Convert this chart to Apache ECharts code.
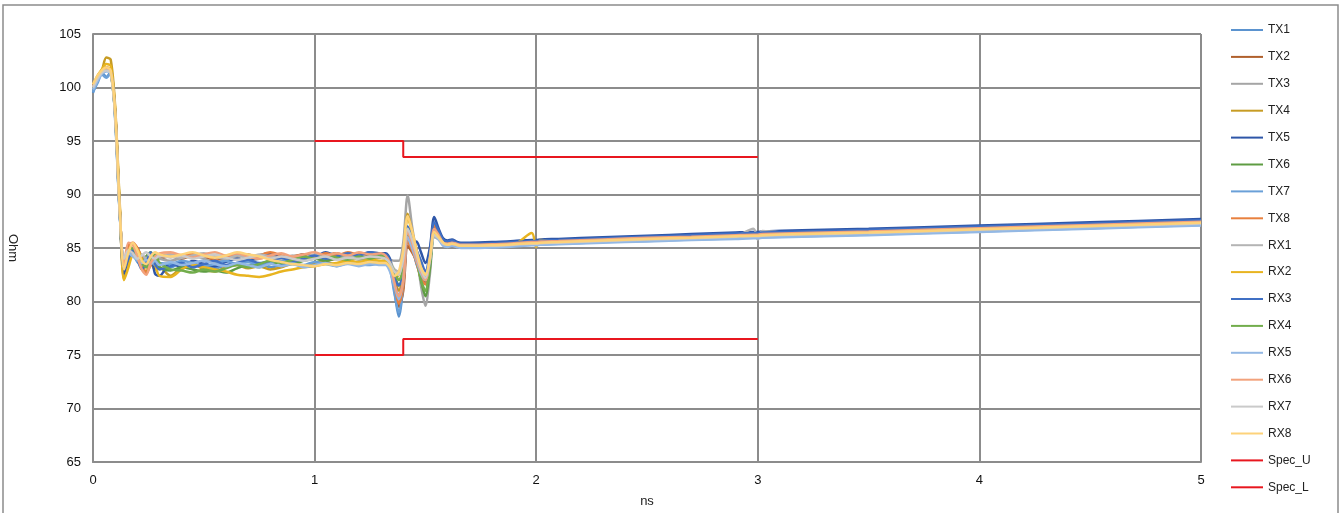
<!DOCTYPE html>
<html><head><meta charset="utf-8">
<script src="https://cdn.jsdelivr.net/npm/echarts@6/dist/echarts.min.js"></script>
<style>html,body{margin:0;padding:0;background:#fff}#c{width:1341px;height:513px}</style>
</head><body><div id="c"></div>
<script>
// time axis (ns)
const xNs = [0,0.02,0.04,0.06,0.08,0.1,0.12,0.14,0.16,0.18,0.2,0.22,0.24,0.26,0.28,0.3,
  0.35,0.4,0.45,0.5,0.55,0.6,0.65,0.7,0.75,0.8,0.85,0.9,0.95,1.0,1.05,1.1,1.15,1.2,1.25,1.3,
  1.32,1.34,1.36,1.38,1.4,1.42,1.44,1.46,1.48,1.5,1.52,1.54,1.56,1.58,1.6,1.62,1.64,1.66,1.68,1.7,
  1.8,1.9,1.98,2.0,2.02,2.1,2.3,2.5,2.7,2.9,2.98,3.0,3.02,3.2,3.5,4.0,4.5,5.0];

const TX1 = [99.5,100.6,101.4,101.0,101.5,97.2,88.5,83.5,84.8,84.6,83.8,83.2,83.6,84.0,83.3,83.5,
  83.2,83.6,83.3,83.5,83.1,83.4,83.6,83.3,83.5,83.2,83.4,83.6,83.3,83.5,83.7,83.4,83.6,83.5,83.7,83.6,
  83.6,83.2,81.0,78.6,81.5,86.2,85.2,83.5,82.5,81.8,83.6,86.4,86.0,85.3,85.2,85.3,85.2,85.1,85.1,85.1,
  85.15,85.25,85.35,85.35,85.4,85.45,85.6,85.7,85.85,85.95,86.0,86.0,86.05,86.15,86.3,86.6,86.9,87.2];
const TX2 = [100.2,101.0,101.6,101.9,101.6,97.8,89.0,83.0,84.8,85.4,85.0,84.2,83.8,84.4,83.9,84.0,
  84.2,84.0,84.3,84.1,83.8,84.0,84.2,84.4,84.1,84.3,84.0,84.2,84.4,84.1,84.3,84.5,84.2,84.4,84.3,84.4,
  84.3,83.6,81.5,79.5,81.0,85.2,84.6,83.8,82.5,81.9,84.0,87.0,86.3,85.6,85.4,85.5,85.4,85.3,85.3,85.3,
  85.35,85.45,85.55,85.55,85.6,85.65,85.8,85.95,86.05,86.2,86.25,86.25,86.3,86.4,86.55,86.85,87.15,87.45];
const TX3 = [100.0,100.9,101.5,101.7,101.4,97.5,88.8,83.6,84.5,84.9,84.3,83.8,84.2,84.5,84.1,84.0,
  83.8,84.1,84.3,84.0,83.7,83.9,84.1,83.8,84.0,84.2,83.9,83.7,83.9,84.1,83.8,84.0,84.2,83.9,84.0,84.1,
  84.0,83.9,83.8,83.8,85.5,89.9,87.0,84.5,81.5,79.6,82.5,86.3,86.0,85.5,85.4,85.5,85.4,85.3,85.3,85.3,
  85.3,85.4,85.5,85.5,85.55,85.6,85.75,85.9,86.0,86.15,86.2,86.2,86.25,86.35,86.5,86.8,87.1,87.4];
const TX4 = [100.2,101.0,101.6,102.8,102.6,98.2,89.5,82.1,83.5,84.6,84.2,83.2,82.8,83.6,83.0,83.2,
  82.4,83.2,83.5,83.0,82.8,83.2,83.4,83.1,83.3,83.0,83.2,83.5,83.3,83.6,83.8,84.0,83.8,84.1,84.0,84.2,
  84.0,83.4,82.0,81.0,83.5,88.2,86.5,84.8,83.0,82.2,83.8,86.3,86.0,85.5,85.3,85.4,85.3,85.2,85.2,85.2,
  85.25,85.35,85.5,85.5,85.55,85.6,85.75,85.9,86.0,86.15,86.2,86.2,86.25,86.35,86.5,86.8,87.1,87.4];
const TX5 = [100.1,100.9,101.5,101.8,101.5,97.6,88.7,82.6,84.2,85.0,84.6,83.6,83.9,84.3,82.6,82.4,
  83.6,83.2,83.8,83.5,83.3,83.7,84.0,83.8,84.3,84.5,84.2,84.0,84.4,84.2,84.6,84.3,84.5,84.4,84.6,84.5,
  84.5,84.0,82.0,80.4,82.0,86.0,85.0,85.6,84.6,83.6,85.0,87.9,86.8,85.9,85.7,85.8,85.6,85.5,85.5,85.5,
  85.55,85.65,85.75,85.75,85.8,85.85,86.0,86.15,86.3,86.45,86.5,86.5,86.55,86.65,86.8,87.1,87.4,87.7];
const TX6 = [100.1,100.9,101.5,101.8,101.5,97.6,88.9,83.3,84.4,84.9,84.4,83.5,84.2,84.6,84.0,83.2,
  82.9,83.2,83.0,82.8,82.9,82.7,83.1,83.4,83.2,83.5,83.7,83.5,83.8,84.0,83.8,84.1,84.3,84.0,84.2,84.1,
  84.0,83.5,82.5,81.5,82.5,86.5,85.5,84.0,82.0,80.5,83.0,86.2,85.9,85.4,85.3,85.4,85.3,85.2,85.2,85.2,
  85.25,85.35,85.45,85.45,85.5,85.55,85.7,85.85,85.95,86.1,86.15,86.15,86.2,86.3,86.45,86.75,87.05,87.35];
const TX7 = [99.6,100.4,101.2,100.9,101.4,97.0,88.4,83.8,84.6,84.4,83.7,83.4,84.0,83.8,83.4,83.6,
  83.5,83.8,83.6,83.3,83.5,83.8,83.5,83.7,83.4,83.6,83.9,83.6,83.4,83.7,83.5,83.3,83.6,83.5,83.4,83.6,
  83.5,83.0,80.8,79.0,81.6,86.0,85.0,83.6,82.4,82.0,83.8,86.6,86.0,85.3,85.2,85.3,85.2,85.1,85.1,85.1,
  85.1,85.2,85.3,85.3,85.35,85.4,85.55,85.65,85.8,85.9,85.95,85.95,86.0,86.1,86.25,86.55,86.85,87.15];
const TX8 = [100.0,100.8,101.5,101.8,101.4,97.5,88.8,83.4,85.2,85.5,85.0,84.0,82.6,83.4,84.1,84.3,
  84.4,84.2,84.5,84.3,84.0,84.2,84.4,84.1,84.3,84.6,84.3,84.1,84.4,84.2,84.5,84.3,84.6,84.4,84.5,84.3,
  84.2,83.5,81.6,79.8,81.5,85.6,84.8,83.6,82.2,81.6,83.8,87.2,86.4,85.6,85.4,85.5,85.4,85.3,85.3,85.3,
  85.35,85.45,85.55,85.55,85.6,85.65,85.8,85.95,86.05,86.2,86.25,86.25,86.3,86.4,86.55,86.85,87.15,87.45];
const RX1 = [100.1,101.0,101.6,101.7,101.3,97.4,88.6,83.8,84.6,84.8,84.2,84.4,84.0,84.5,84.3,84.2,
  84.4,84.1,84.3,84.5,84.2,84.0,84.3,84.1,84.4,84.2,84.0,84.3,84.1,84.4,84.2,84.0,84.2,84.3,84.1,84.2,
  84.1,83.8,83.0,82.8,84.0,87.0,86.0,84.5,83.0,82.0,83.8,86.0,85.8,85.4,85.3,85.4,85.3,85.2,85.2,85.2,
  85.25,85.35,85.45,85.45,85.5,85.55,85.7,85.85,85.95,86.1,86.8,85.8,86.6,86.3,86.45,86.75,87.05,87.35];
const RX2 = [100.2,101.1,101.7,102.2,102.0,97.9,89.2,82.0,83.2,84.5,84.8,84.0,83.2,84.3,83.5,82.4,
  82.3,83.0,83.4,83.2,83.0,82.8,82.5,82.4,82.3,82.5,82.8,83.0,83.2,83.3,83.5,83.6,83.8,83.7,83.9,83.8,
  83.8,83.3,82.2,82.5,84.5,87.8,86.5,84.6,82.8,82.2,84.0,86.4,86.0,85.5,85.3,85.4,85.3,85.2,85.2,85.2,
  85.25,85.35,86.4,85.1,85.75,85.6,85.75,85.9,86.0,86.15,86.2,86.2,86.25,86.35,86.5,86.8,87.1,87.4];
const RX3 = [100.1,100.9,101.5,101.8,101.5,97.6,88.7,83.0,84.0,84.8,84.0,83.0,83.6,84.6,83.5,83.0,
  83.3,83.6,83.2,83.5,83.8,83.4,83.6,83.9,83.6,83.8,84.1,83.8,84.0,84.3,84.0,84.2,84.5,84.3,84.6,84.4,
  84.4,83.8,82.2,81.5,83.0,87.0,85.8,84.8,83.8,82.8,84.5,87.4,86.6,85.8,85.6,85.7,85.5,85.4,85.4,85.4,
  85.45,85.55,85.65,85.65,85.7,85.75,85.9,86.05,86.2,86.35,86.4,86.4,86.45,86.55,86.7,87.0,87.3,87.6];
const RX4 = [100.0,100.8,101.5,101.7,101.4,97.4,88.7,83.5,84.8,85.0,84.2,83.6,83.2,84.0,84.4,83.6,
  83.0,82.9,82.7,83.0,82.8,83.1,83.4,83.2,83.5,83.8,83.6,83.9,84.2,84.0,84.3,84.1,83.9,84.2,84.0,84.3,
  84.2,83.6,82.8,82.0,83.0,86.8,85.6,84.0,82.0,81.0,83.5,86.5,86.0,85.4,85.3,85.4,85.3,85.2,85.2,85.2,
  85.25,85.35,85.45,85.45,85.5,85.55,85.7,85.85,85.95,86.1,86.15,86.15,86.2,86.3,86.45,86.75,87.05,87.35];
const RX5 = [99.8,100.6,101.3,101.5,101.4,97.3,88.6,84.0,84.5,84.2,83.9,83.6,83.9,83.5,83.8,83.4,
  83.7,83.4,83.6,83.8,83.5,83.3,83.6,83.4,83.2,83.5,83.3,83.5,83.2,83.4,83.6,83.3,83.5,83.3,83.5,83.4,
  83.4,82.8,81.5,80.2,82.0,86.0,85.0,83.8,82.6,82.0,83.8,86.2,85.8,85.2,85.1,85.2,85.1,85.0,85.0,85.0,
  85.05,85.15,85.25,85.25,85.3,85.35,85.5,85.6,85.75,85.85,85.9,85.9,85.95,86.05,86.2,86.5,86.8,87.1];
const RX6 = [100.1,100.9,101.5,101.8,101.5,97.6,88.8,83.5,85.5,85.3,84.2,83.0,82.5,83.6,84.2,84.5,
  84.6,84.3,84.1,84.4,84.6,84.3,84.5,84.2,84.0,84.3,84.5,84.2,84.4,84.6,84.3,84.5,84.3,84.6,84.4,84.5,
  84.3,83.6,81.8,80.5,82.0,86.5,85.5,84.0,82.8,82.0,84.0,86.8,86.2,85.5,85.4,85.5,85.4,85.3,85.3,85.3,
  85.35,85.45,85.55,85.55,85.6,85.65,85.8,85.95,86.05,86.2,86.25,86.25,86.3,86.4,86.55,86.85,87.15,87.45];
const RX7 = [100.0,100.8,101.4,101.6,101.3,97.3,88.6,84.0,84.8,84.5,84.0,84.3,84.6,84.2,84.0,84.3,
  84.1,84.3,84.0,84.2,84.4,84.1,83.9,84.1,84.3,84.0,84.2,84.0,83.8,84.0,84.2,83.9,84.1,84.0,84.2,84.1,
  84.0,83.6,82.8,82.5,84.0,86.8,85.8,84.4,83.0,82.2,83.9,86.2,85.9,85.4,85.3,85.4,85.3,85.2,85.2,85.2,
  85.2,85.3,85.4,85.4,85.45,85.5,85.65,85.8,85.9,86.05,86.1,86.1,86.15,86.25,86.4,86.7,87.0,87.3];
const RX8 = [100.3,101.1,101.6,101.9,101.6,97.8,89.0,83.0,84.6,85.5,84.8,83.8,83.5,84.2,84.6,84.4,
  84.2,84.4,84.6,84.3,84.1,84.3,84.6,84.4,84.2,83.9,83.7,83.5,83.4,83.3,83.5,83.4,83.6,83.5,83.7,83.6,
  83.6,83.2,82.4,82.8,84.8,88.0,86.6,84.8,83.2,82.5,84.0,86.5,86.0,85.5,85.3,85.4,85.3,85.2,85.2,85.2,
  85.25,85.35,85.45,85.45,85.5,85.55,85.7,85.85,85.95,86.1,86.15,86.15,86.2,86.3,86.45,86.75,87.05,87.35];

// spec limits
const specX = [1, 1.4, 1.4, 3];
const specU = [95, 95, 93.5, 93.5];
const specL = [75, 75, 76.5, 76.5];

const yTicks = {min: 65, max: 105, step: 5};
const xTicks = {min: 0, max: 5, step: 1};

const names = ['TX1','TX2','TX3','TX4','TX5','TX6','TX7','TX8','RX1','RX2','RX3','RX4','RX5','RX6','RX7','RX8'];
const values = [TX1,TX2,TX3,TX4,TX5,TX6,TX7,TX8,RX1,RX2,RX3,RX4,RX5,RX6,RX7,RX8];
const colors = ['#5b93cf','#b0602c','#a5a5a5','#c79c24','#2e56a8','#5e9c43','#6aa0d8','#e8803e',
  '#b4b4b4','#e8b420','#4070c4','#72ad4c','#93b8e4','#f2a27c','#cacaca','#fdd27a'];
const specColor = '#e8171f';

const pair = (xs, ys) => xs.map((x, i) => [x, ys[i]]);

const series = names.map((n, i) => ({
  name: n, type: 'line', data: pair(xNs, values[i]), symbol: 'none', smooth: 0.3,
  lineStyle: {width: 2.5, color: colors[i]}, itemStyle: {color: colors[i]}, z: 2
}));
series.push({name: 'Spec_U', type: 'line', data: pair(specX, specU), symbol: 'none',
  lineStyle: {width: 2, color: specColor}, itemStyle: {color: specColor}, z: 3});
series.push({name: 'Spec_L', type: 'line', data: pair(specX, specL), symbol: 'none',
  lineStyle: {width: 2, color: specColor}, itemStyle: {color: specColor}, z: 3});

const font = 'Liberation Sans, Arial, sans-serif';
const chart = echarts.init(document.getElementById('c'));
chart.setOption({
  animation: false,
  backgroundColor: '#fff',
  textStyle: {fontFamily: font},
  graphic: [{type: 'rect', shape: {x: 3, y: 5, width: 1335, height: 530},
    style: {fill: 'none', stroke: '#8c8c8c', lineWidth: 1.5}, silent: true}],
  grid: {left: 93, top: 34, right: 140, bottom: 51, containLabel: false, outerBoundsMode: 'none'},
  legend: {
    orient: 'vertical', left: 1230, top: 24, padding: 0, itemWidth: 32, itemHeight: 14, itemGap: 14.9,
    data: names.concat(['Spec_U','Spec_L']),
    textStyle: {fontSize: 12, color: '#222', fontFamily: font},
    itemStyle: {opacity: 0},
    lineStyle: {width: 2}
  },
  xAxis: {
    type: 'value', min: xTicks.min, max: xTicks.max, interval: xTicks.step,
    name: 'ns', nameLocation: 'middle', nameGap: 33,
    nameTextStyle: {fontSize: 13, color: '#222'},
    axisLine: {show: true, lineStyle: {color: '#8c8c8c', width: 2}},
    axisTick: {show: false},
    axisLabel: {fontSize: 13, color: '#111', margin: 12},
    splitLine: {show: true, lineStyle: {color: '#8c8c8c', width: 2}}
  },
  yAxis: {
    type: 'value', min: yTicks.min, max: yTicks.max, interval: yTicks.step,
    name: 'Ohm', nameLocation: 'middle', nameGap: 74, nameRotate: -90,
    nameTextStyle: {fontSize: 13, color: '#222'},
    axisLine: {show: true, lineStyle: {color: '#8c8c8c', width: 2}},
    axisTick: {show: false},
    axisLabel: {fontSize: 13, color: '#111', margin: 12},
    splitLine: {show: true, lineStyle: {color: '#8c8c8c', width: 2}}
  },
  series: series
});
</script></body></html>
